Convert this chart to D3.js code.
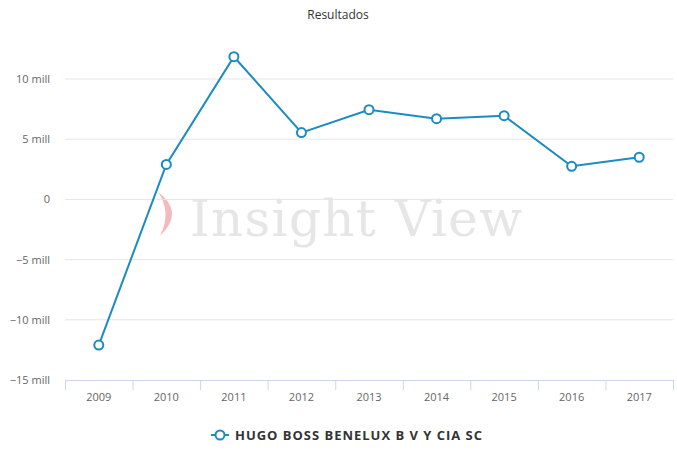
<!DOCTYPE html>
<html><head><meta charset="utf-8">
<script src="https://cdn.jsdelivr.net/npm/d3@7"></script>
<style>body{margin:0;background:#fff}svg{font-family:"Open Sans",sans-serif}</style>
</head><body><svg id="c" width="677" height="450"></svg>
<script>
const years=["2009","2010","2011","2012","2013","2014","2015","2016","2017"];
const values=[-12.1,2.9,11.85,5.55,7.45,6.7,6.95,2.75,3.5];
const yTicks=[-15,-10,-5,0,5,10];
const yLabels=["−15 mill","−10 mill","−5 mill","0","5 mill","10 mill"];
const seriesName="HUGO BOSS BENELUX B V Y CIA SC";
const color="#1a8cc1";
const svg=d3.select("#c");
const x=d3.scaleBand().domain(years).range([65,673]);
const y=d3.scaleLinear().domain([-15,10]).range([380,79]);
svg.append("text").attr("x",338).attr("y",19).attr("text-anchor","middle").attr("font-size",12).attr("fill","#333").text("Resultados");
svg.append("path").attr("d","M158,192 Q185,212 160,236 Q172,212 158,192Z").attr("fill","#f4b8bd");
svg.append("text").attr("x",190).attr("y",236).attr("font-family","DejaVu Serif, serif").attr("font-size",50).attr("fill","#e6e6e6").attr("textLength",332).text("Insight View");
yTicks.forEach((t,i)=>{
  if(t>-15)svg.append("line").attr("x1",65).attr("x2",673).attr("y1",y(t)).attr("y2",y(t)).attr("stroke","#e6e6e6");
  svg.append("text").attr("x",50).attr("y",y(t)+4).attr("text-anchor","end").attr("font-size",11).attr("fill","#666").text(yLabels[i]);
});
svg.append("line").attr("x1",65).attr("x2",673).attr("y1",380.5).attr("y2",380.5).attr("stroke","#ccd6eb");
years.forEach((yr,i)=>{
  const xb=x(yr);
  svg.append("line").attr("x1",xb+.5).attr("x2",xb+.5).attr("y1",380).attr("y2",390).attr("stroke","#ccd6eb");
  svg.append("text").attr("x",xb+x.bandwidth()/2).attr("y",401).attr("text-anchor","middle").attr("font-size",11).attr("fill","#666").text(yr);
});
svg.append("line").attr("x1",673.5).attr("x2",673.5).attr("y1",380).attr("y2",390).attr("stroke","#ccd6eb");
const cx=d=>x(d)+x.bandwidth()/2;
svg.append("path").datum(values).attr("fill","none").attr("stroke",color).attr("stroke-width",2)
  .attr("d",d3.line().x((d,i)=>cx(years[i])).y(d=>y(d)));
svg.selectAll("circle.p").data(values).enter().append("circle").attr("cx",(d,i)=>cx(years[i])).attr("cy",d=>y(d)).attr("r",4.5).attr("fill","#fff").attr("stroke",color).attr("stroke-width",2);
svg.append("line").attr("x1",211).attr("x2",229).attr("y1",435).attr("y2",435).attr("stroke",color).attr("stroke-width",2);
svg.append("circle").attr("cx",220).attr("cy",435).attr("r",4.5).attr("fill","#fff").attr("stroke",color).attr("stroke-width",2);
svg.append("text").attr("x",235).attr("y",440).attr("font-size",13).attr("font-weight","bold").attr("fill","#333").attr("textLength",247).text(seriesName);
</script></body></html>
